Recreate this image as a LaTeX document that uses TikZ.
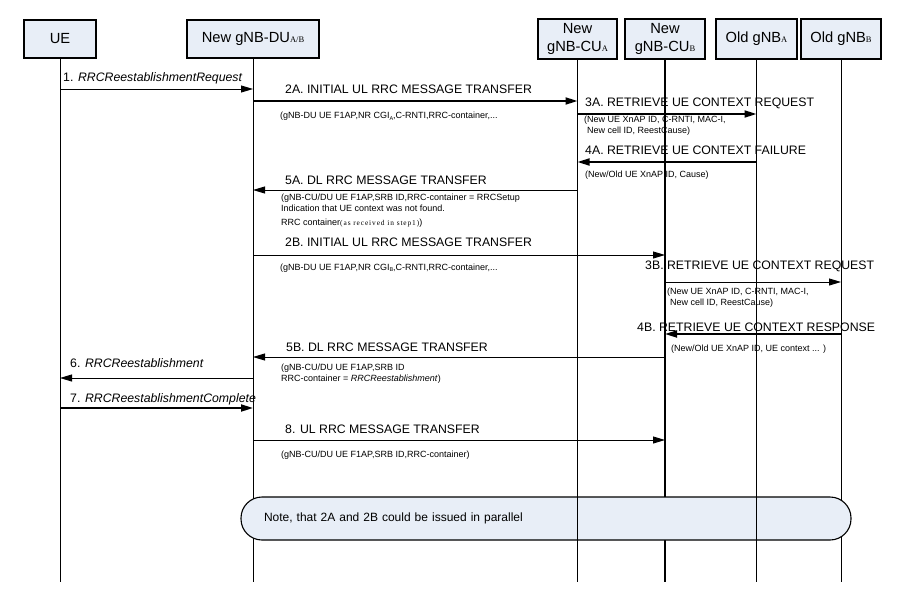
\documentclass[tikz,border=0pt]{standalone}
\usepackage{fontspec}
\setmainfont{Liberation Sans}
\newfontfamily\serifsc{Liberation Serif}
\newfontfamily\tinyserif[LetterSpace=12]{Liberation Serif}
\usetikzlibrary{arrows.meta}
\definecolor{boxfill}{RGB}{232,238,247}
\newcommand{\hsub}[1]{{\serifsc\fontsize{8.5}{8.5}\selectfont #1}}
\newcommand{\ssub}[1]{\raisebox{-1.2pt}{\fontsize{5.5}{5.5}\selectfont #1}}
\newcommand{\msgline}[4]{\draw[#1] (#2 |- 0,#4) -- (#3 |- 0,#4);}
\begin{document}
\begin{tikzpicture}[x=1pt,y=-1pt,
  hdr/.style={draw, fill=boxfill, line width=1.1pt, inner sep=0pt, align=center,
    font=\fontsize{14.7}{17.5}\selectfont, minimum height=38pt},
  hdrthick/.style={hdr, line width=1.9pt},
  life/.style={line width=0.9pt},
  lifethick/.style={line width=1.9pt},
  msg/.style={line width=0.9pt, -{Triangle[length=12pt,width=7pt]}},
  msgthick/.style={line width=1.9pt, -{Triangle[length=12pt,width=7pt]}},
  lbl/.style={anchor=base west, inner sep=0pt, font=\fontsize{12.3}{14}\selectfont},
  sublbl/.style={anchor=base west, inner sep=0pt, font=\fontsize{9}{10}\selectfont},
  notebox/.style={draw, fill=boxfill, line width=1.1pt, rounded corners=21pt,
    minimum height=43pt, inner xsep=23pt, text width=564pt, align=left,
    font=\fontsize{12}{13}\selectfont}
]
\useasboundingbox (0,0) rectangle (912,599);
\fill[white] (0,0) rectangle (912,599);

% header boxes
\node[hdr, minimum width=72pt] (ue) at (60,39) {UE};
\node[hdrthick, minimum width=132pt] (du) at (253,39) {New gNB-DU\hsub{A/B}};
\node[hdr, minimum width=79pt, minimum height=40pt] (cua) at (577.5,39) {New\\gNB-CU\hsub{A}};
\node[hdr, minimum width=80pt, minimum height=40pt] (cub) at (665,39) {New\\gNB-CU\hsub{B}};
\node[hdrthick, minimum width=81pt, minimum height=40pt] (olda) at (756.5,39) {Old gNB\hsub{A}};
\node[hdrthick, minimum width=80pt, minimum height=40pt] (oldb) at (841,39) {Old gNB\hsub{B}};

% messages
\msgline{msg}{ue}{du}{89}
\node[lbl] (l1) at (63,81.5) {1. \textit{RRCReestablishmentRequest}};

\msgline{msgthick}{du}{cua}{101}
\node[lbl] (l2a) at (285,93.5) {2A. INITIAL UL RRC MESSAGE TRANSFER};
\node[sublbl] (s2a) at (280,119) {(gNB-DU UE F1AP,NR CGI\ssub{A},C-RNTI,RRC-container,...};

\msgline{msgthick}{cua}{olda}{114}
\node[lbl] (l3a) at (585,106.5) {3A. RETRIEVE UE CONTEXT REQUEST};
\node[sublbl] (s3a1) at (584,123) {(New UE XnAP ID, C-RNTI, MAC-I,};
\node[sublbl] (s3a2) at (587,133) {New cell ID, ReestCause)};

\msgline{msgthick}{olda}{cua}{162}
\node[lbl] (l4a) at (585,154.5) {4A. RETRIEVE UE CONTEXT FAILURE};
\node[sublbl] (s4a) at (585,177) {(New/Old UE XnAP ID, Cause)};

\msgline{msg}{cua}{du}{190}
\node[lbl] (l5a) at (285,184.5) {5A. DL RRC MESSAGE TRANSFER};
\node[sublbl] (s5a1) at (281,200) {(gNB-CU/DU UE F1AP,SRB ID,RRC-container = RRCSetup};
\node[sublbl] (s5a2) at (281,211) {Indication that UE context was not found.};
\node[sublbl] (s5a3) at (281,225) {RRC container{\tinyserif\fontsize{7.4}{7.4}\selectfont(as received in step1)})};

\msgline{msg}{du}{cub}{255}
\node[lbl] (l2b) at (285,246.5) {2B. INITIAL UL RRC MESSAGE TRANSFER};
\node[sublbl] (s2b) at (280,270) {(gNB-DU UE F1AP,NR CGI\ssub{B},C-RNTI,RRC-container,...};

\msgline{msg}{cub}{oldb}{282}
\node[lbl] (l3b) at (645,269.5) {3B. RETRIEVE UE CONTEXT REQUEST};
\node[sublbl] (s3b1) at (667,294) {(New UE XnAP ID, C-RNTI, MAC-I,};
\node[sublbl] (s3b2) at (670,305) {New cell ID, ReestCause)};

\msgline{msgthick}{oldb}{cub}{334}
\node[lbl] (l4b) at (637,331) {4B. RETRIEVE UE CONTEXT RESPONSE};
\node[sublbl] (s4b) at (671,351) {(New/Old UE XnAP ID, UE context ... )};

\msgline{msg}{cub}{du}{357}
\node[lbl] (l5b) at (286,351) {5B. DL RRC MESSAGE TRANSFER};
\node[sublbl] (s5b1) at (281,370) {(gNB-CU/DU UE F1AP,SRB ID};
\node[sublbl] (s5b2) at (281,381) {RRC-container = \textit{RRCReestablishment})};

\msgline{msg}{du}{ue}{378}
\node[lbl] (l6) at (70,367.5) {6. \textit{RRCReestablishment}};

\msgline{msgthick}{ue}{du}{408}
\node[lbl] (l7) at (70,402.5) {7. \textit{RRCReestablishmentComplete}};

\msgline{msg}{du}{cub}{440}
\node[lbl] (l8) at (285,433.5) {8. UL RRC MESSAGE TRANSFER};
\node[sublbl] (s8) at (281,457) {(gNB-CU/DU UE F1AP,SRB ID,RRC-container)};

% lifelines (some under the note)
\coordinate (ueend) at (ue |- 0,582);
\coordinate (duend) at (du |- 0,582);
\coordinate (cuaend) at (cua |- 0,582);
\coordinate (cubend) at (cub |- 0,582);
\coordinate (oldaend) at (olda |- 0,582);
\coordinate (oldbend) at (oldb |- 0,582);
\draw[life] (ue.south) -- (ueend);
\draw[life] (du.south) -- (duend);
\draw[lifethick] (cub.south) -- (cubend);
\draw[life] (oldb.south) -- (oldbend);

\node[notebox] (note) at (546,518.5) {Note, that 2A and 2B could be issued in parallel};

\draw[life] (cua.south) -- (cuaend);
\draw[life] (olda.south) -- (oldaend);
\end{tikzpicture}
\end{document}
